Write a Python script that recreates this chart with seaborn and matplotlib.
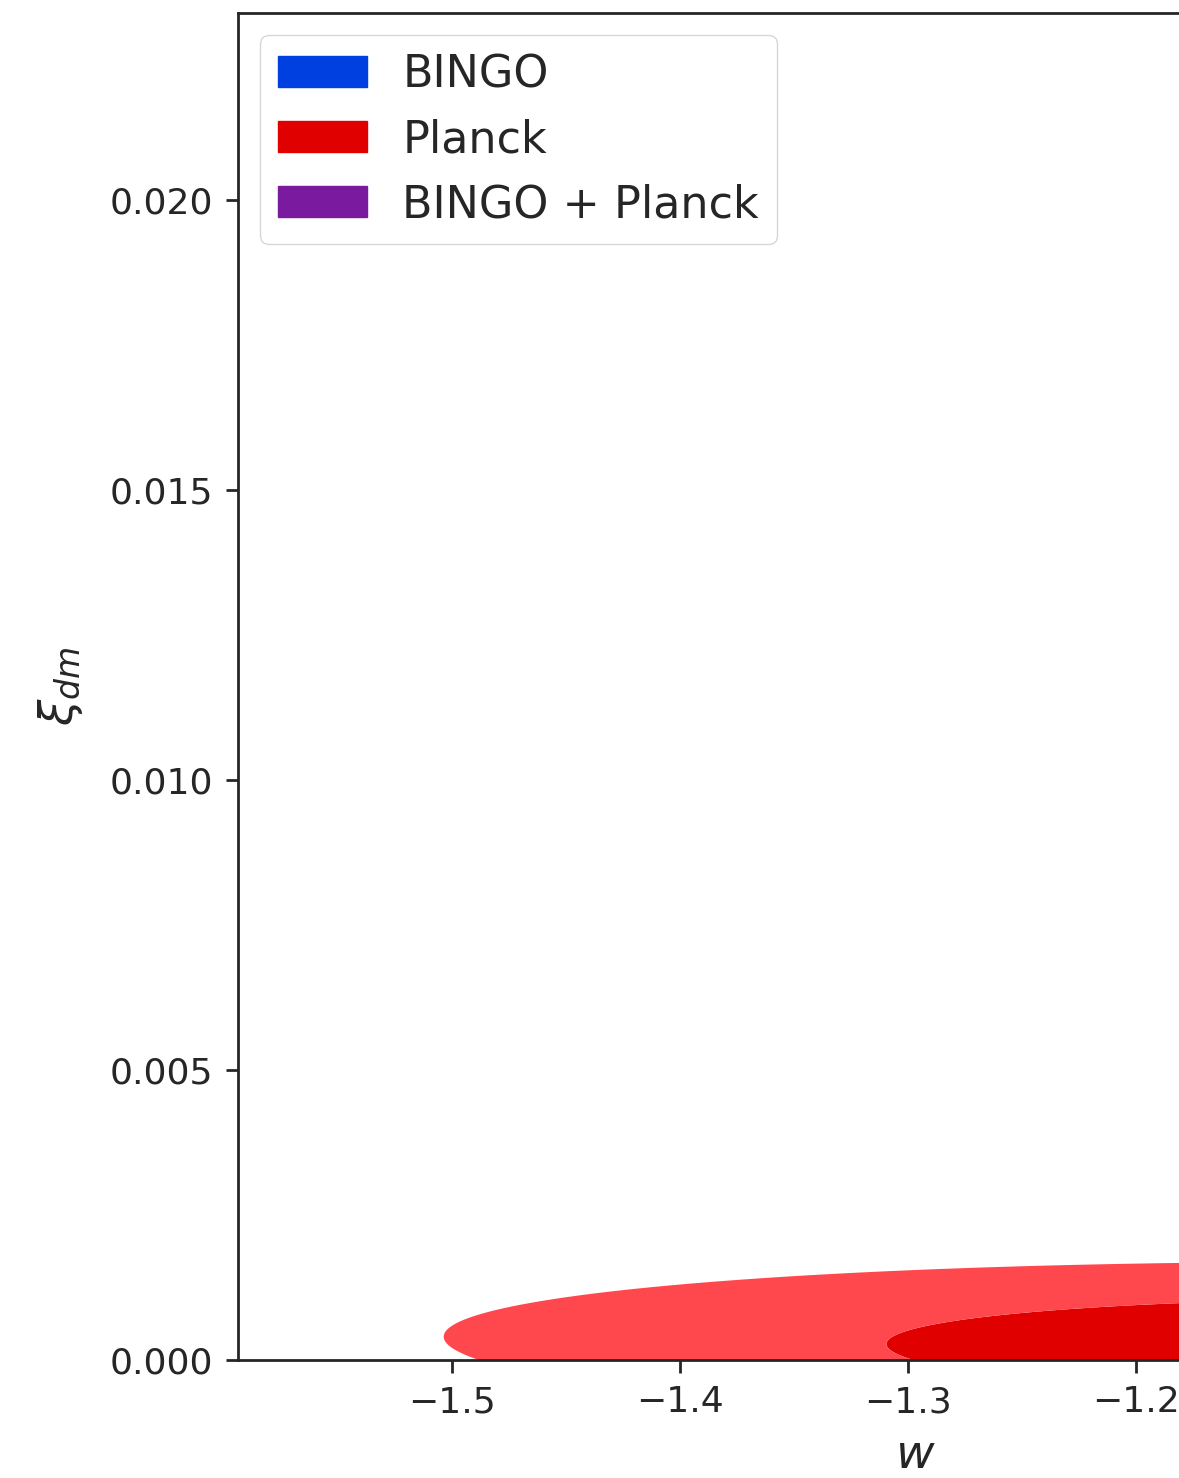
import numpy as np
import matplotlib
matplotlib.use("Agg")
import matplotlib.pyplot as plt
import matplotlib.patches as mpatches
import seaborn as sns

# Legend entries and their fill colours
series_labels = ["BINGO", "Planck", "BINGO + Planck"]
series_colors = ["#0040e0", "#e00000", "#7a1a9f"]

# Planck posterior summary in the (w, xi_dm) plane
planck_w_mean = -1.0050
planck_xi_mean = 0.0000771
planck_w_sigma = 0.2008
planck_xi_sigma = 0.000651
planck_corr = -0.2017

# Confidence levels (delta chi^2 for 2 parameters) and shades: 68% dark, 95% light
conf_levels = [0.0, 2.30, 6.17]
planck_shades = ["#e00000", "#ff474e"]

# Axis ranges and ticks
w_range = (-1.594, -1.0)
xi_range = (0.0, 0.02322)
w_ticks = [-1.5, -1.4, -1.3, -1.2, -1.1, -1.0]
xi_ticks = [0.0, 0.005, 0.010, 0.015, 0.020]

sns.set_style("ticks")
plt.rcParams["font.family"] = ["DejaVu Sans"]
plt.rcParams["mathtext.fontset"] = "dejavusans"

fig = plt.figure(figsize=(11.79, 14.78), dpi=100)
ax = fig.add_axes([0.2019, 0.0798, 1.1484, 0.9114])

# Gaussian delta chi^2 surface for the Planck constraint
w_grid = np.linspace(-1.8, -0.2, 900)
xi_grid = np.linspace(-0.003, 0.004, 700)
W, XI = np.meshgrid(w_grid, xi_grid)
dw = (W - planck_w_mean) / planck_w_sigma
dx = (XI - planck_xi_mean) / planck_xi_sigma
chi2 = (dw**2 - 2 * planck_corr * dw * dx + dx**2) / (1 - planck_corr**2)
ax.contourf(W, XI, chi2, levels=conf_levels, colors=planck_shades, antialiased=True)

ax.set_xlim(*w_range)
ax.set_ylim(*xi_range)
ax.set_xticks(w_ticks)
ax.set_yticks(xi_ticks)
ax.yaxis.set_major_formatter(matplotlib.ticker.FormatStrFormatter("%.3f"))
ax.xaxis.set_major_formatter(matplotlib.ticker.FuncFormatter(lambda v, p: f"{v:.1f}".replace("-", "\u2212")))

ax.tick_params(axis="both", labelsize=26, length=9, width=2.0, pad=9, color="0.15", labelcolor="0.15")
for side in ["left", "bottom", "top", "right"]:
    ax.spines[side].set_linewidth(2.0)
    ax.spines[side].set_color("0.15")

ax.set_xlabel("$w$", fontsize=34, labelpad=10, color="0.15")
ax.set_ylabel(r"$\xi_{dm}$", fontsize=34, labelpad=18, color="0.15")

handles = [mpatches.Patch(color=c, label=l) for c, l in zip(series_colors, series_labels)]
ax.legend(handles=handles, loc="upper left", fontsize=32, frameon=True,
          fancybox=True, framealpha=0.8, edgecolor="0.8", borderpad=0.4,
          labelspacing=0.5, handlelength=2.0, handletextpad=0.8)

fig.savefig("out.png", dpi=100)
